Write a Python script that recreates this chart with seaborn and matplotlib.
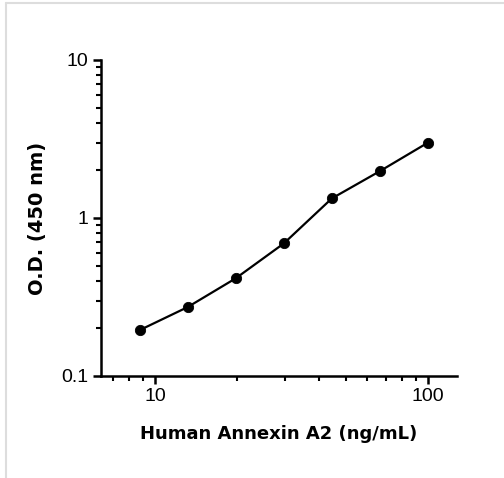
import numpy as np
import pandas as pd
import seaborn as sns
import matplotlib.pyplot as plt
from matplotlib.ticker import LogLocator, NullFormatter, FixedLocator
from matplotlib.lines import Line2D

# standard curve values
conc = [8.78, 13.17, 19.75, 29.63, 44.44, 66.67, 100.0]
od = [0.195, 0.273, 0.415, 0.69, 1.33, 1.98, 3.0]
x_ticks = [10, 100]
y_ticks = [0.1, 1, 10]
y_ticklabels = ['0.1', '1', '10']

df = pd.DataFrame({'conc': conc, 'od': od})

sns.set_style('ticks')
plt.rcParams['font.family'] = ['Liberation Sans', 'DejaVu Sans']
plt.rcParams['text.color'] = 'black'
plt.rcParams['axes.labelcolor'] = 'black'
plt.rcParams['xtick.color'] = 'black'
plt.rcParams['ytick.color'] = 'black'
plt.rcParams['axes.edgecolor'] = 'black'

fig = plt.figure(figsize=(5.04, 4.78), dpi=100)
ax = fig.add_axes([0.2004, 0.2134, 0.7063, 0.6611])

sns.lineplot(data=df, x='conc', y='od', color='black', linewidth=1.6, ax=ax)
sns.scatterplot(data=df, x='conc', y='od', color='black', s=55, edgecolor='black', zorder=3, ax=ax)

ax.set_xscale('log')
ax.set_yscale('log')
ax.set_xlim(6.34, 127.7)
ax.set_ylim(0.1, 10)

ax.xaxis.set_major_locator(FixedLocator(x_ticks))
ax.set_xticklabels([str(t) for t in x_ticks], family='Liberation Sans')
ax.xaxis.set_minor_locator(FixedLocator([7, 8, 9] + list(range(20, 100, 10))))
ax.xaxis.set_minor_formatter(NullFormatter())
ax.yaxis.set_major_locator(FixedLocator(y_ticks))
ax.set_yticklabels(y_ticklabels, family='Liberation Sans')
ax.yaxis.set_minor_locator(LogLocator(base=10, subs=np.arange(2, 10)))
ax.yaxis.set_minor_formatter(NullFormatter())

sns.despine(ax=ax)
for side in ['left', 'bottom']:
    ax.spines[side].set_linewidth(1.8)
ax.tick_params(which='major', direction='out', length=6, width=1.8, labelsize=14, pad=3)
ax.tick_params(which='minor', direction='out', length=3.5, width=1.5)

ax.set_xlabel('Human Annexin A2 (ng/mL)', fontsize=13, fontweight='bold',
              family=['DejaVu Sans'], labelpad=14)
ax.set_ylabel('O.D. (450 nm)', fontsize=14, fontweight='bold',
              family=['DejaVu Sans'], labelpad=10)

# light frame on top and left edge of the image
fig.add_artist(Line2D([0.011, 1.0], [0.9937, 0.9937], color='#dddddd', linewidth=1.5, transform=fig.transFigure))
fig.add_artist(Line2D([0.0119, 0.0119], [0.0, 0.9937], color='#dddddd', linewidth=1.5, transform=fig.transFigure))

fig.savefig('out.png', dpi=100)
